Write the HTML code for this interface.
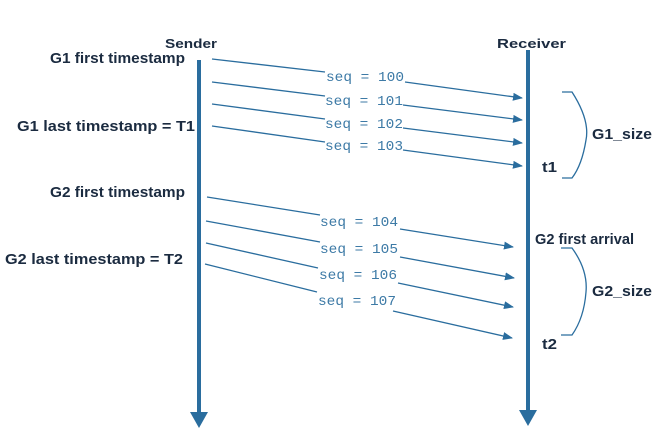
<!DOCTYPE html>
<html><head><meta charset="utf-8"><style>
html,body{margin:0;padding:0;background:#fff;width:667px;height:435px;overflow:hidden}
svg{display:block}
.b{font-family:"Liberation Sans",sans-serif;font-weight:bold;font-size:15px;fill:#1b2b40}
.s{font-family:"Liberation Mono",monospace;font-size:13.5px;fill:#3d7aa6}
</style></head><body>
<svg width="667" height="435" viewBox="0 0 667 435" xmlns="http://www.w3.org/2000/svg">
<defs><marker id="a" markerWidth="10" markerHeight="8" refX="9" refY="4" orient="auto" markerUnits="userSpaceOnUse"><path d="M0,0 L10,4 L0,8 z" fill="#2a6d9e"/></marker></defs>
<g stroke="#2a6d9e" stroke-width="4">
<line x1="199" y1="60" x2="199" y2="414"/>
<line x1="528" y1="50" x2="528" y2="412"/>
</g>
<path d="M190,412 L208,412 L199,428 z" fill="#2a6d9e"/>
<path d="M519,410 L537,410 L528,426 z" fill="#2a6d9e"/>
<g stroke="#2a6d9e" stroke-width="1.3" fill="none">
<polyline points="212,59 325,72"/><polyline points="405,82 522,98" marker-end="url(#a)"/>
<polyline points="212,82 325,96"/><polyline points="403,105 522,120" marker-end="url(#a)"/>
<polyline points="212,104 325,119"/><polyline points="403,128 522,143" marker-end="url(#a)"/>
<polyline points="212,126 325,142"/><polyline points="403,150 522,166" marker-end="url(#a)"/>
<polyline points="207,197 320,215"/><polyline points="400,229 513,247" marker-end="url(#a)"/>
<polyline points="206,221 320,242"/><polyline points="400,257 514,278" marker-end="url(#a)"/>
<polyline points="206,243 318,268"/><polyline points="398,283 513,307" marker-end="url(#a)"/>
<polyline points="205,264 317,292"/><polyline points="393,311 512,338" marker-end="url(#a)"/>
<path d="M562,92 L572,92 Q590,120 586,140 Q582,165 572,178 L562,178"/>
<path d="M561,248 L572,248 Q588,270 586,292 Q584,318 572,335 L561,335"/>
</g>
<text class="s" x="326" y="81" textLength="78" lengthAdjust="spacingAndGlyphs">seq = 100</text>
<text class="s" x="325" y="105" textLength="78" lengthAdjust="spacingAndGlyphs">seq = 101</text>
<text class="s" x="325" y="128" textLength="78" lengthAdjust="spacingAndGlyphs">seq = 102</text>
<text class="s" x="325" y="150" textLength="78" lengthAdjust="spacingAndGlyphs">seq = 103</text>
<text class="s" x="320" y="226" textLength="78" lengthAdjust="spacingAndGlyphs">seq = 104</text>
<text class="s" x="320" y="253" textLength="78" lengthAdjust="spacingAndGlyphs">seq = 105</text>
<text class="s" x="319" y="279" textLength="78" lengthAdjust="spacingAndGlyphs">seq = 106</text>
<text class="s" x="318" y="305" textLength="78" lengthAdjust="spacingAndGlyphs">seq = 107</text>
<text class="b" x="165" y="48" style="font-size:13px" textLength="52" lengthAdjust="spacingAndGlyphs">Sender</text>
<text class="b" x="497" y="48" style="font-size:13px" textLength="69" lengthAdjust="spacingAndGlyphs">Receiver</text>
<text class="b" x="50" y="63" textLength="135" lengthAdjust="spacingAndGlyphs">G1 first timestamp</text>
<text class="b" x="17" y="131" textLength="178" lengthAdjust="spacingAndGlyphs">G1  last timestamp = T1</text>
<text class="b" x="50" y="197" textLength="135" lengthAdjust="spacingAndGlyphs">G2 first timestamp</text>
<text class="b" x="5" y="264" textLength="178" lengthAdjust="spacingAndGlyphs">G2  last timestamp = T2</text>
<text class="b" x="592" y="139" textLength="60" lengthAdjust="spacingAndGlyphs">G1_size</text>
<text class="b" x="542" y="172" textLength="15" lengthAdjust="spacingAndGlyphs">t1</text>
<text class="b" x="535" y="244" textLength="99" lengthAdjust="spacingAndGlyphs">G2 first arrival</text>
<text class="b" x="592" y="296" textLength="60" lengthAdjust="spacingAndGlyphs">G2_size</text>
<text class="b" x="542" y="349" textLength="15" lengthAdjust="spacingAndGlyphs">t2</text>
</svg>
</body></html>
